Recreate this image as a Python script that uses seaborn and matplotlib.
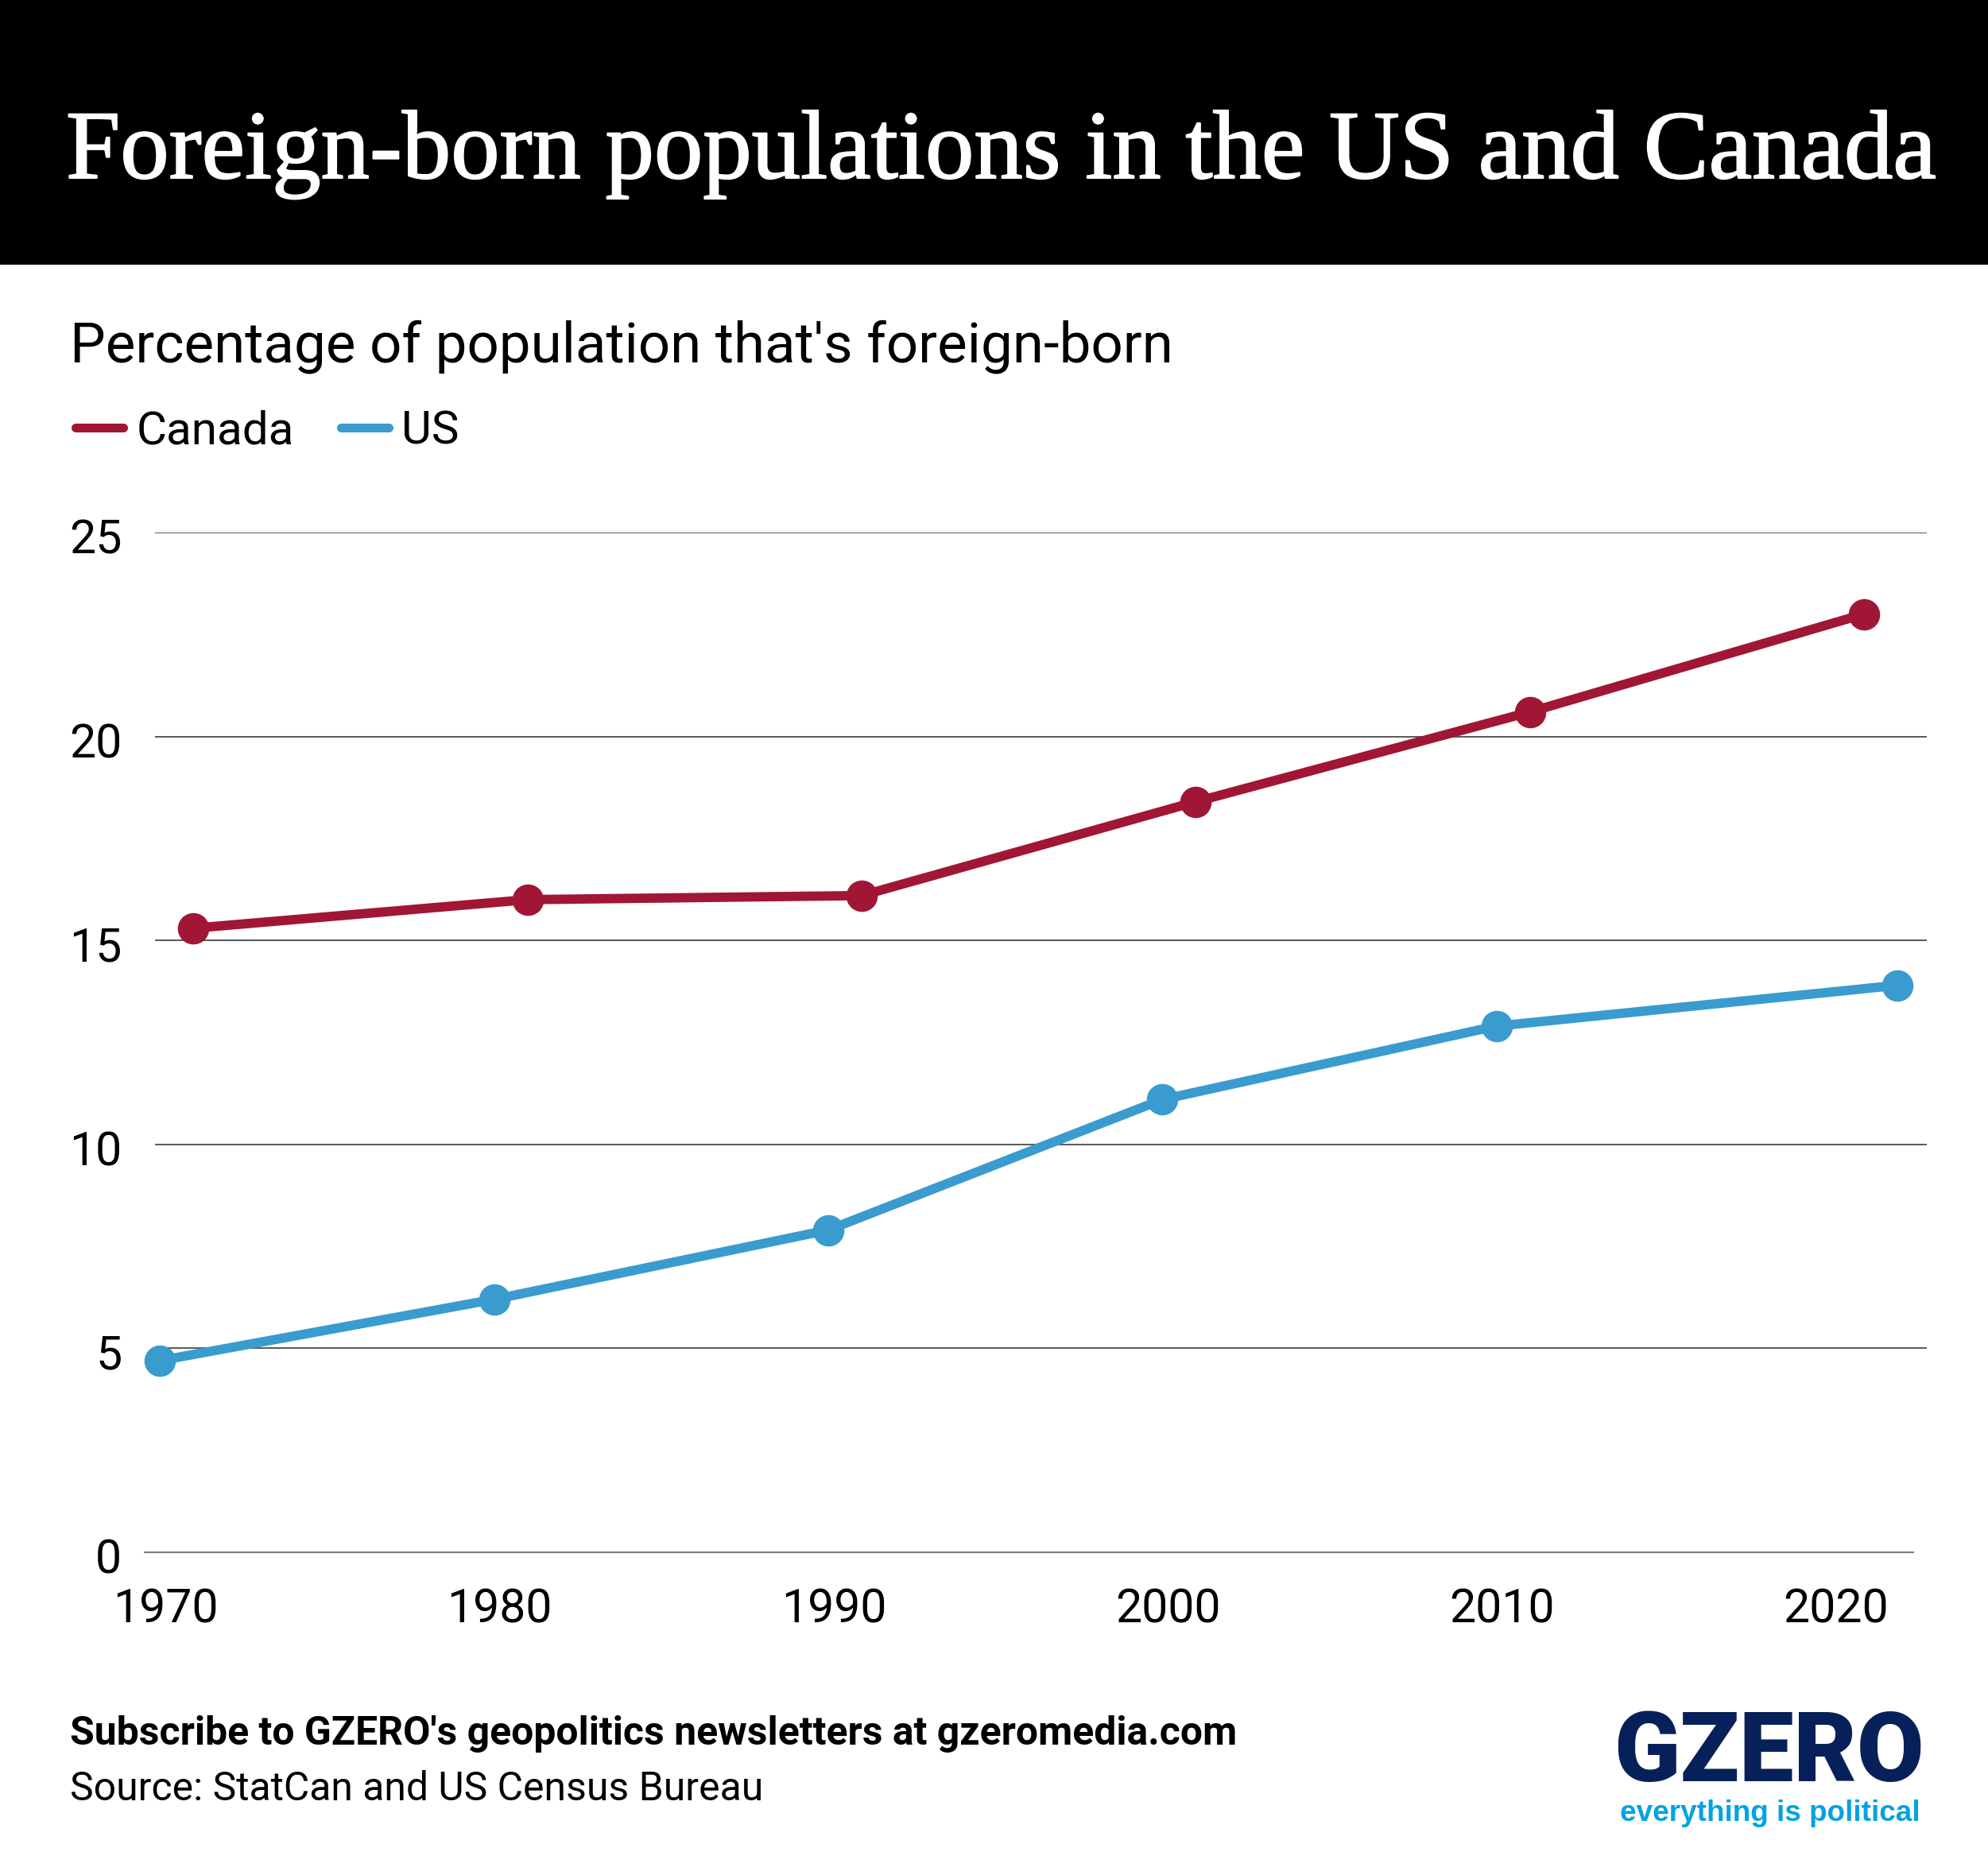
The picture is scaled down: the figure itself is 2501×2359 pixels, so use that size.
import pandas as pd
import seaborn as sns
import matplotlib.pyplot as plt
import matplotlib.patheffects as pe
from matplotlib.lines import Line2D
from matplotlib.patches import Rectangle
from matplotlib.transforms import ScaledTranslation

# Values
canada_years = [1971, 1981, 1991, 2001, 2011, 2021]
canada_values = [15.3, 16.0, 16.1, 18.4, 20.6, 23.0]
us_years = [1970, 1980, 1990, 2000, 2010, 2022]
us_values = [4.7, 6.2, 7.9, 11.1, 12.9, 13.9]
x_ticks = [1970, 1980, 1990, 2000, 2010, 2020]
y_ticks = [0, 5, 10, 15, 20, 25]

title = "Foreign-born populations in the US and Canada"
subtitle = "Percentage of population that's foreign-born"
footer_bold = "Subscribe to GZERO's geopolitics newsletters at gzeromedia.com"
footer_source = "Source: StatCan and US Census Bureau"

RED = "#A11635"
BLUE = "#3A9BCF"
NAVY = "#072059"
CYAN = "#00A3E0"

W, H = 2501, 2359


def fx(px):
    return px / W


def fy(px):
    return 1 - px / H


df = pd.concat([
    pd.DataFrame({"year": canada_years, "value": canada_values, "country": "Canada"}),
    pd.DataFrame({"year": us_years, "value": us_values, "country": "US"}),
])

sns.set_style("white")
plt.rcParams["font.family"] = ["Roboto", "DejaVu Sans"]

fig = plt.figure(figsize=(W / 100, H / 100), dpi=100, facecolor="white")

# Black header band
fig.add_artist(Rectangle((0, fy(333)), 1, 333 / H, transform=fig.transFigure,
                         facecolor="black", edgecolor="none"))
# no slab serif installed, so thicken the serif a little with a stroke
title_text = fig.text(fx(83), fy(224), title, color="white", fontsize=88.4,
                      family="Liberation Serif", va="baseline")
title_text.set_path_effects([pe.withStroke(linewidth=1.4, foreground="white")])
fig.text(fx(88), fy(456), subtitle, color="black", fontsize=51, va="baseline")

# -------------------------------------------------------------------
# Chart
# -------------------------------------------------------------------
ax = fig.add_axes([fx(181), fy(1953), (2424 - 181) / W, (1953 - 670) / H])

x_left = 1970 - (201.3 - 181) / 42.03
ax.set_xlim(x_left, x_left + (2424 - 181) / 42.03)
ax.set_ylim(0, 25)

trans = ax.get_yaxis_transform()
ax.hlines(y_ticks[1:], (195 - 181) / (2424 - 181), 1, transform=trans,
          color="#4a4a4a", linewidth=1.3, zorder=1)
ax.hlines(0, 0, (2408 - 181) / (2424 - 181), transform=trans,
          color="#808080", linewidth=1.6, zorder=1, clip_on=False)

sns.lineplot(data=df, x="year", y="value", hue="country",
             palette={"Canada": RED, "US": BLUE}, marker="o", markersize=28.5,
             markeredgewidth=0, linewidth=8.5, legend=False, ax=ax, zorder=3,
             clip_on=False, solid_joinstyle="miter")

sns.despine(ax=ax, left=True, bottom=True, top=True, right=True)
ax.set_xlabel("")
ax.set_ylabel("")
ax.set_xticks(x_ticks)
ax.set_yticks(y_ticks)
ax.tick_params(axis="both", length=0, labelsize=42.5, colors="black")
ax.tick_params(axis="y", pad=20)
ax.tick_params(axis="x", pad=31)

for lab in ax.get_xticklabels():
    lab.set_transform(lab.get_transform() + ScaledTranslation(7 / 100, 0, fig.dpi_scale_trans))
for lab in ax.get_yticklabels():
    lab.set_transform(lab.get_transform() + ScaledTranslation(0, -4 / 100, fig.dpi_scale_trans))

# Legend: plain line keys without the markers
handles = [
    Line2D([], [], color=RED, linewidth=8, solid_capstyle="round"),
    Line2D([], [], color=BLUE, linewidth=8, solid_capstyle="round"),
]
fig.legend(handles, ["Canada", "US"], loc="center left",
           bbox_to_anchor=(fx(95), fy(543)), ncols=2, frameon=False,
           fontsize=42, handlelength=1.03, handletextpad=0.28,
           columnspacing=1.01, borderpad=0, borderaxespad=0, labelcolor="black")

# -------------------------------------------------------------------
# Footer and logo
# -------------------------------------------------------------------
fig.text(fx(88), fy(2195), footer_bold, color="black", fontsize=35.9,
         fontweight="bold", va="baseline")
fig.text(fx(88), fy(2265), footer_source, color="black", fontsize=35.9, va="baseline")
fig.text(fx(2421), fy(2241), "GZERO", color=NAVY, fontsize=88, fontweight="black",
         ha="right", va="baseline")
fig.text(fx(2416), fy(2291), "everything is political", color=CYAN, fontsize=26.6,
         family="Liberation Sans", fontweight="bold", ha="right", va="baseline")

plt.savefig("out.png", dpi=100, facecolor="white")
plt.close()
